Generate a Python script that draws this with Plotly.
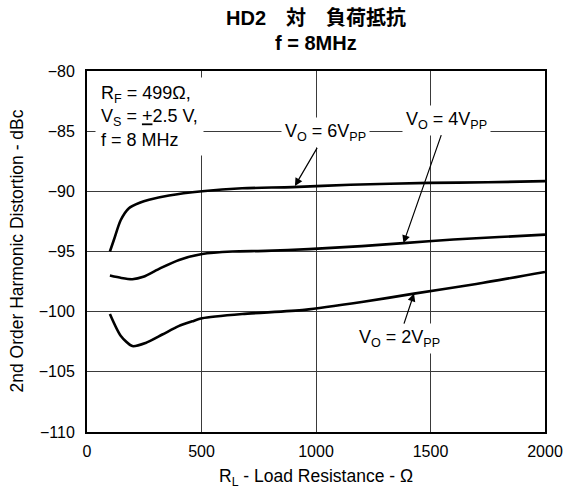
import plotly.graph_objects as go

# Load resistance (ohms) and second-harmonic distortion (dBc) per output swing
rl_6vpp = [100, 118, 147, 183, 230, 271, 358, 503, 677, 897, 1150, 1494, 1750, 2000]
hd2_6vpp = [-95.0, -94.0, -92.4, -91.4, -90.95, -90.7, -90.35, -90.0, -89.75,
            -89.65, -89.45, -89.3, -89.25, -89.15]

rl_4vpp = [100, 150, 198, 246, 319, 402, 503, 635, 780, 969, 1200, 1382, 1600, 1800, 2000]
hd2_4vpp = [-97.0, -97.2, -97.3, -97.1, -96.4, -95.7, -95.2, -95.0, -94.95,
            -94.8, -94.55, -94.3, -94.0, -93.8, -93.6]

rl_2vpp = [100, 147, 198, 256, 329, 400, 460, 503, 678, 950, 1200, 1428, 1700, 2000]
hd2_2vpp = [-100.2, -102.0, -102.86, -102.6, -101.9, -101.2, -100.8, -100.55,
            -100.2, -99.85, -99.2, -98.5, -97.7, -96.7]

x_ticks = [0, 500, 1000, 1500, 2000]
y_ticks = [-110, -105, -100, -95, -90, -85, -80]

FONT = "Liberation Sans, Arial, Helvetica, Noto Sans CJK JP, sans-serif"
TITLE_FONT = "Liberation Sans, Arial, Noto Sans CJK JP, sans-serif"

fig = go.Figure()
for xs, ys in [(rl_6vpp, hd2_6vpp), (rl_4vpp, hd2_4vpp), (rl_2vpp, hd2_2vpp)]:
    fig.add_trace(go.Scatter(
        x=xs, y=ys, mode="lines",
        line=dict(color="black", width=2.6, shape="spline", smoothing=0.7),
        showlegend=False, hoverinfo="skip",
    ))

# Curve labels with arrows pointing at each trace
curve_labels = [
    ("V<sub>O</sub> = 6V<sub>PP</sub>", 908, -89.55, 31, -53),
    ("V<sub>O</sub> = 4V<sub>PP</sub>", 1382, -94.3, 43, -123),
    ("V<sub>O</sub> = 2V<sub>PP</sub>", 1428, -98.5, -15, 45),
]
for text, x, y, ax, ay in curve_labels:
    fig.add_annotation(
        x=x, y=y, xref="x", yref="y", text=text,
        showarrow=True, arrowhead=2, arrowsize=1.3, arrowwidth=1.2,
        arrowcolor="black", ax=ax, ay=ay, axref="pixel", ayref="pixel",
        bgcolor="white", borderpad=3,
        font=dict(family=FONT, size=18, color="black"),
    )

# Test conditions box
fig.add_annotation(
    x=275, y=-83.8, xref="x", yref="y",
    text="R<sub>F</sub> = 499Ω,<br>V<sub>S</sub> = <u>+</u>2.5 V,<br>f = 8 MHz",
    showarrow=False, align="left", bgcolor="white", borderpad=5,
    font=dict(family=FONT, size=18, color="black"),
)

# Two-line heading above the plot
fig.add_annotation(
    x=0.5, y=1.147, xref="paper", yref="paper", xanchor="center", yanchor="middle",
    text="<b>HD2　対　負荷抵抗</b>", showarrow=False,
    font=dict(family=TITLE_FONT, size=20, color="black"),
)
fig.add_annotation(
    x=0.5, y=1.078, xref="paper", yref="paper", xanchor="center", yanchor="middle",
    text="<b>f = 8MHz</b>", showarrow=False,
    font=dict(family=TITLE_FONT, size=20, color="black"),
)

# Axis titles
fig.add_annotation(
    x=0.5, y=-0.127, xref="paper", yref="paper", xanchor="center", yanchor="middle",
    text="R<sub>L</sub> - Load Resistance - Ω", showarrow=False,
    font=dict(family=FONT, size=17.5, color="black"),
)
fig.add_annotation(
    x=-0.155, y=0.5, xref="paper", yref="paper", xanchor="center", yanchor="middle",
    text="2nd Order Harmonic Distortion - dBc", showarrow=False, textangle=-90,
    font=dict(family=FONT, size=17.5, color="black"),
)

axis_common = dict(
    showline=True, linecolor="black", linewidth=2, mirror=True,
    showgrid=True, gridcolor="#3a3a3a", gridwidth=1, zeroline=False,
    ticks="", tickfont=dict(family=FONT, size=16, color="black"),
    automargin=False,
)

fig.update_xaxes(range=[0, 2000], tickvals=x_ticks, ticklabelstandoff=4, **axis_common)
fig.update_yaxes(range=[-110, -80], tickvals=y_ticks, ticklabelstandoff=7, **axis_common)

fig.update_layout(
    width=567, height=491,
    margin=dict(l=87, r=22, t=71, b=59, autoexpand=False),
    paper_bgcolor="white", plot_bgcolor="white",
    font=dict(family=FONT, color="black"),
)

fig.write_html("out.html")
